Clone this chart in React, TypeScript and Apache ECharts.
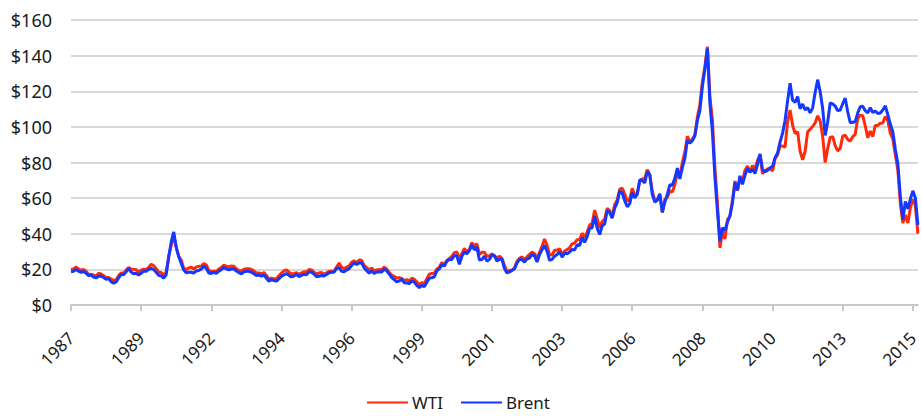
import React, { useEffect, useRef } from "react";
import * as echarts from "echarts";

// Monthly values, May 1987 .. Jul 2015 (USD per barrel)
const startYear = 1987;
const startMonth = 5;

const wti = [
  // 1987 May-Dec
  19.8, 20.3, 21.4, 20.3, 19.5, 19.9, 18.9, 17.3,
  // 1988
  17.1, 16.8, 16.2, 17.9, 17.4, 16.5, 15.5, 15.5, 14.5, 13.8, 14.1, 16.4,
  // 1989
  18.0, 17.9, 19.5, 21.1, 20.1, 20.1, 19.8, 18.6, 19.6, 20.1, 19.9, 21.1,
  // 1990
  22.9, 22.1, 20.4, 18.4, 18.2, 16.7, 18.5, 27.3, 33.5, 39.0, 32.3, 27.3,
  // 1991
  25.2, 20.5, 19.9, 20.8, 21.2, 20.2, 21.4, 21.7, 21.9, 23.2, 22.5, 19.5,
  // 1992
  18.8, 19.0, 18.9, 20.2, 21.0, 22.4, 21.8, 21.3, 21.9, 21.7, 20.3, 19.4,
  // 1993
  19.0, 20.1, 20.3, 20.3, 20.0, 19.1, 17.9, 18.0, 17.5, 18.2, 16.6, 14.5,
  // 1994
  15.0, 14.8, 14.7, 16.4, 17.9, 19.1, 19.7, 18.4, 17.5, 17.7, 18.1, 17.2,
  // 1995
  18.0, 18.6, 18.5, 19.9, 19.7, 18.5, 17.3, 18.0, 18.2, 17.4, 18.0, 19.0,
  // 1996
  18.9, 19.1, 21.3, 23.5, 21.2, 20.4, 21.3, 21.9, 24.0, 24.9, 23.7, 25.2,
  // 1997
  25.1, 22.2, 21.0, 19.7, 20.8, 19.3, 19.7, 20.0, 19.8, 21.3, 20.2, 18.3,
  // 1998
  16.7, 16.1, 15.1, 15.4, 14.9, 13.7, 14.2, 13.5, 15.0, 14.5, 13.0, 11.4,
  // 1999
  12.5, 12.0, 14.7, 17.3, 17.7, 17.9, 20.1, 21.3, 23.8, 22.7, 25.0, 26.1,
  // 2000
  27.3, 29.4, 29.8, 25.7, 28.8, 31.8, 29.7, 31.3, 35.0, 33.1, 34.4, 28.4,
  // 2001
  29.6, 29.6, 27.3, 27.5, 28.6, 27.6, 26.4, 27.4, 26.2, 22.2, 18.8, 19.4,
  // 2002
  19.7, 20.7, 24.5, 26.2, 27.0, 25.5, 27.0, 28.4, 29.7, 28.8, 26.4, 29.5,
  // 2003
  33.0, 37.0, 33.5, 28.2, 28.1, 30.7, 30.8, 31.6, 28.3, 30.3, 31.1, 32.1,
  // 2004
  34.3, 34.7, 36.7, 36.8, 40.3, 38.0, 40.8, 44.9, 45.9, 53.3, 48.5, 43.2,
  // 2005
  46.8, 48.2, 54.2, 53.0, 49.8, 56.4, 59.0, 65.0, 65.6, 62.3, 58.3, 59.4,
  // 2006
  65.5, 61.6, 62.7, 69.4, 70.8, 71.0, 76.0, 73.0, 63.8, 58.9, 59.1, 62.0,
  // 2007
  52.0, 59.3, 60.4, 64.0, 63.5, 67.5, 74.1, 72.4, 79.9, 85.8, 94.8, 91.7,
  // 2008
  93.0, 95.4, 105.5, 112.6, 125.4, 133.9, 145.0, 116.7, 104.1, 76.6, 57.3, 32.0,
  // 2009
  41.7, 37.0, 47.9, 49.7, 59.0, 69.6, 64.2, 71.1, 69.4, 75.7, 78.0, 74.5,
  // 2010
  78.3, 76.4, 81.2, 84.3, 73.7, 75.3, 76.3, 76.6, 75.2, 81.9, 84.3, 89.2,
  // 2011
  89.2, 88.6, 102.9, 109.5, 100.9, 96.3, 97.3, 86.3, 81.5, 86.3, 97.2, 98.6,
  // 2012
  100.3, 102.2, 106.2, 103.3, 94.7, 80.0, 87.9, 94.1, 94.5, 89.5, 86.5, 87.9,
  // 2013
  94.8, 95.3, 92.9, 92.0, 94.5, 95.8, 104.7, 106.6, 106.3, 100.5, 93.9, 97.6,
  // 2014
  94.6, 100.8, 100.8, 102.1, 102.2, 105.8, 103.6, 96.5, 93.2, 84.4, 75.8, 57.0,
  // 2015 Jan-Jul
  46.0, 50.6, 46.0, 54.5, 59.3, 56.0, 40.0,
];

const brent = [
  // 1987 May-Dec
  18.6, 18.9, 19.9, 19.0, 18.3, 18.8, 17.8, 16.4,
  // 1988
  16.9, 15.7, 15.2, 16.1, 16.3, 15.4, 14.5, 14.8, 13.1, 12.2, 12.9, 15.2,
  // 1989
  17.2, 17.0, 18.6, 20.6, 18.5, 17.6, 17.8, 16.9, 17.8, 19.1, 19.0, 20.0,
  // 1990
  20.5, 19.9, 18.4, 16.6, 16.4, 15.1, 17.1, 26.9, 35.4, 41.0, 32.4, 27.2,
  // 1991
  23.3, 19.6, 18.1, 18.4, 18.4, 17.9, 19.1, 19.4, 20.1, 21.9, 20.6, 18.0,
  // 1992
  17.7, 18.3, 17.8, 19.0, 19.8, 21.1, 20.2, 19.7, 20.2, 20.2, 19.1, 18.2,
  // 1993
  17.5, 18.6, 18.9, 18.9, 18.4, 17.5, 16.5, 16.8, 16.2, 16.8, 15.0, 13.3,
  // 1994
  14.3, 13.7, 13.4, 14.8, 16.2, 16.9, 17.7, 16.6, 15.8, 16.2, 17.2, 16.0,
  // 1995
  16.6, 17.2, 17.0, 18.6, 18.5, 17.3, 15.9, 16.1, 16.6, 16.3, 17.1, 18.1,
  // 1996
  18.4, 18.4, 20.5, 21.0, 18.9, 18.7, 19.6, 20.4, 22.2, 23.6, 22.7, 23.6,
  // 1997
  23.7, 20.8, 19.3, 17.9, 19.1, 17.7, 18.5, 18.6, 18.5, 20.2, 19.2, 17.4,
  // 1998
  15.4, 14.2, 13.0, 13.5, 14.5, 12.5, 12.4, 12.0, 13.5, 12.9, 11.0, 9.8,
  // 1999
  11.1, 10.3, 12.6, 15.2, 15.3, 15.8, 19.2, 20.3, 22.5, 21.9, 24.5, 25.5,
  // 2000
  25.5, 27.8, 27.5, 22.8, 27.4, 29.8, 28.7, 30.5, 33.8, 30.9, 32.5, 25.3,
  // 2001
  25.5, 27.4, 24.6, 25.6, 28.1, 27.7, 24.6, 25.7, 25.7, 20.5, 18.0, 18.6,
  // 2002
  19.4, 20.3, 23.6, 25.7, 25.4, 24.1, 25.9, 26.3, 28.4, 27.6, 24.2, 28.3,
  // 2003
  31.0, 33.5, 30.2, 25.1, 25.6, 27.4, 28.4, 29.8, 26.9, 29.0, 28.8, 29.8,
  // 2004
  31.2, 30.9, 33.8, 33.4, 37.9, 35.2, 38.4, 43.0, 43.4, 49.8, 43.1, 39.6,
  // 2005
  44.5, 45.5, 53.1, 51.9, 48.7, 54.4, 57.5, 64.0, 62.9, 58.5, 55.2, 56.9,
  // 2006
  63.0, 60.2, 62.1, 70.3, 69.8, 68.6, 75.0, 73.2, 62.0, 57.8, 58.8, 62.5,
  // 2007
  52.0, 57.6, 62.1, 67.5, 67.2, 71.1, 76.9, 70.8, 77.2, 82.3, 92.4, 90.9,
  // 2008
  92.2, 95.0, 103.6, 109.1, 122.8, 132.3, 144.0, 113.2, 97.2, 71.6, 52.5, 36.0,
  // 2009
  43.4, 42.0, 46.5, 50.2, 57.3, 68.6, 64.4, 72.5, 67.7, 72.8, 76.7, 74.5,
  // 2010
  76.2, 73.8, 78.8, 84.8, 76.0, 74.8, 75.6, 77.0, 77.8, 82.7, 85.3, 91.5,
  // 2011
  96.5, 103.7, 114.6, 124.5, 115.0, 113.8, 117.0, 110.2, 112.8, 109.6, 110.8, 107.9,
  // 2012
  110.7, 119.3, 126.5, 119.8, 110.3, 95.2, 102.6, 113.4, 112.9, 111.7, 109.1, 109.5,
  // 2013
  113.0, 116.1, 108.5, 102.3, 102.6, 102.9, 107.9, 111.3, 111.6, 109.1, 107.8, 110.8,
  // 2014
  108.1, 108.9, 107.5, 107.8, 109.5, 111.8, 106.8, 101.6, 97.1, 87.4, 79.4, 61.0,
  // 2015 Jan-Jul
  48.0, 58.1, 54.0, 59.5, 64.1, 60.0, 45.0,
];

const months: string[] = wti.map((_, i) => {
  const m0 = startMonth - 1 + i;
  const y = startYear + Math.floor(m0 / 12);
  const m = (m0 % 12) + 1;
  return `${y}-${m < 10 ? "0" + m : m}`;
});

const seriesNames = ["WTI", "Brent"];
const seriesColors = ["#ff2a0a", "#1438ff"];
const yTicks = [0, 20, 40, 60, 80, 100, 120, 140, 160];

export default function App() {
  const ref = useRef<HTMLDivElement>(null);
  useEffect(() => {
    if (!ref.current) return;
    const chart = echarts.init(ref.current, undefined, { renderer: "svg" });
    const font = "'Noto Sans', 'Open Sans', sans-serif";
    chart.setOption({
      animation: false,
      backgroundColor: "#ffffff",
      textStyle: { fontFamily: font },
      grid: { left: 71, top: 20, width: 849, bottom: 111, containLabel: false },
      legend: {
        data: seriesNames,
        top: 394,
        left: 367,
        padding: 0,
        icon: "rect",
        itemWidth: 41,
        itemHeight: 2,
        itemGap: 18,
        textStyle: { fontSize: 17, color: "#1a1a1a", fontFamily: font, padding: [0, 0, 0, -1] },
      },
      xAxis: {
        type: "category",
        data: months,
        boundaryGap: false,
        axisLine: { lineStyle: { color: "#c8c8c8", width: 2 } },
        axisTick: { interval: 27, length: 6, lineStyle: { color: "#c8c8c8", width: 2 } },
        axisLabel: {
          interval: 27,
          rotate: 45,
          margin: 30,
          fontSize: 17,
          color: "#1a1a1a",
          fontFamily: font,
          formatter: (v: string) => v.slice(0, 4),
        },
        splitLine: { show: false },
      },
      yAxis: {
        type: "value",
        min: yTicks[0],
        max: yTicks[yTicks.length - 1],
        interval: 20,
        axisLine: { show: false },
        axisTick: { show: false },
        axisLabel: {
          margin: 19,
          fontSize: 18,
          color: "#1a1a1a",
          fontFamily: font,
          formatter: (v: number) => "$" + v,
        },
        splitLine: { lineStyle: { color: "#d9d9d9", width: 2 } },
      },
      series: [
        {
          name: seriesNames[0],
          type: "line",
          data: wti,
          showSymbol: false,
          symbol: "none",
          lineStyle: { color: seriesColors[0], width: 3 },
          itemStyle: { color: seriesColors[0] },
          z: 2,
        },
        {
          name: seriesNames[1],
          type: "line",
          data: brent,
          showSymbol: false,
          symbol: "none",
          lineStyle: { color: seriesColors[1], width: 3 },
          itemStyle: { color: seriesColors[1] },
          z: 3,
        },
      ],
    });
    return () => chart.dispose();
  }, []);
  return (
    <div
      ref={ref}
      style={{ position: "absolute", left: 0, top: 0, width: 921, height: 416 }}
    />
  );
}
